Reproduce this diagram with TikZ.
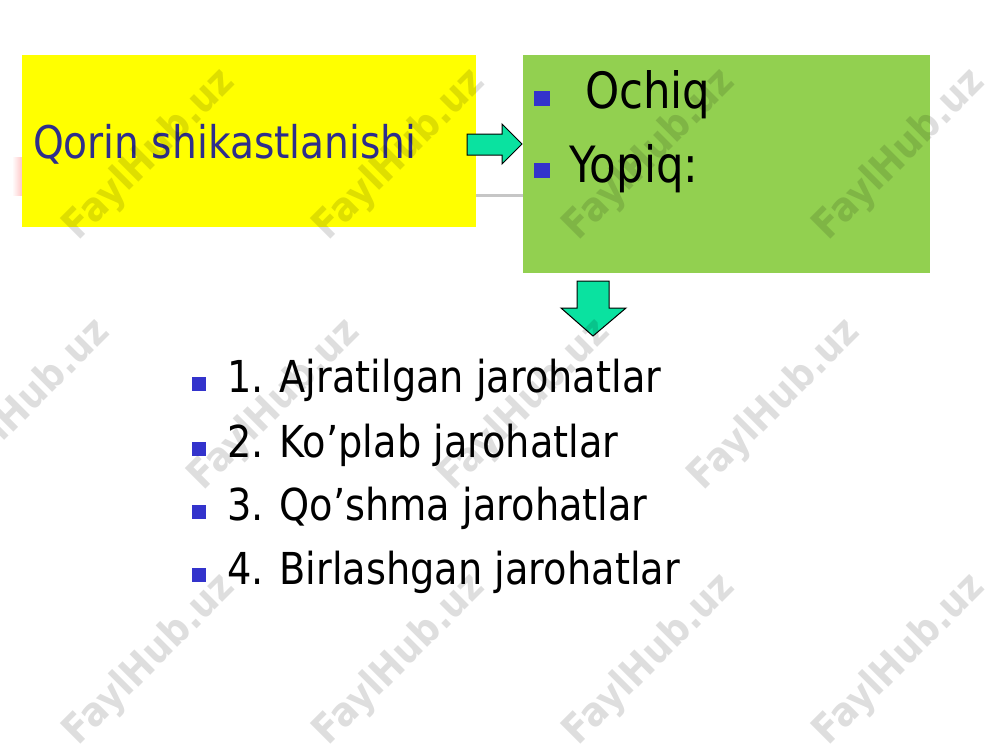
\documentclass[tikz,border=0pt]{standalone}
\usepackage{fontspec}
\setmainfont{DejaVu Sans}[FakeStretch=0.87]
\newfontfamily\wmfont{DejaVu Sans}[FakeStretch=0.9]
\definecolor{yel}{RGB}{255,255,0}
\definecolor{grn}{RGB}{146,208,80}
\definecolor{mint}{RGB}{10,226,160}
\definecolor{navy}{RGB}{46,46,140}
\definecolor{bul}{RGB}{51,51,204}
\tikzset{
  txt/.style={anchor=base west, inner sep=0pt, outer sep=0pt},
  blockarrow/.style={fill=mint, draw=black, line width=0.5pt, line join=miter},
  bulsq/.style={fill=bul},
  wm/.style={rotate=45, inner sep=0pt, font=\wmfont\bfseries\fontsize{20}{20}\selectfont, text=black, text opacity=0.13},
}
\begin{document}
\begin{tikzpicture}[x=0.5pt, y=-0.5pt]
\useasboundingbox (0,0) rectangle (1000,750);
\fill[white] (0,0) rectangle (1000,750);
% faint slide remnants
\shade[left color=white, right color=red!22] (12,157) rectangle (22,195);
\draw[gray!45, line width=1.5pt] (476,195) -- (523,195);
% boxes
\node[fill=yel, inner sep=0pt, minimum width=227pt, minimum height=86pt, anchor=north west] (qbox) at (22,55) {};
\node[fill=grn, inner sep=0pt, minimum width=203.5pt, minimum height=109pt, anchor=north west] (gbox) at (523,55) {};
% title
\node[txt, text=navy, font=\fontsize{22.5}{27}\selectfont] (title) at (33,158) {Qorin shikastlanishi};
% block arrows
\draw[blockarrow] (467,134) -- (502,134) -- (502,124) -- (522,144) -- (502,164) -- (502,155) -- (467,155) -- cycle;
\draw[blockarrow] (577,281) -- (609,281) -- (609,308) -- (626,308) -- (593,336) -- (561,308) -- (577,308) -- cycle;
% green box items
\fill[bulsq] (534,91) rectangle (550,106);
\fill[bulsq] (534,163) rectangle (550,178);
\node[txt, font=\fontsize{25}{30}\selectfont] (och) at (585,108) {Ochiq};
\node[txt, font=\fontsize{25}{30}\selectfont] (yop) at (569,182) {Yopiq:};
% list
\fill[bulsq] (192,377) rectangle (206,391);
\fill[bulsq] (192,442) rectangle (206,456);
\fill[bulsq] (192,505) rectangle (206,519);
\fill[bulsq] (192,568) rectangle (206,582);
\node[txt, font=\fontsize{22}{26}\selectfont] (l1) at (227,392) {1. Ajratilgan jarohatlar};
\node[txt, font=\fontsize{22}{26}\selectfont] (l2) at (227,457) {2. Ko’plab jarohatlar};
\node[txt, font=\fontsize{22}{26}\selectfont] (l3) at (227,520) {3. Qo’shma jarohatlar};
\node[txt, font=\fontsize{22}{26}\selectfont] (l4) at (227,584) {4. Birlashgan jarohatlar};
% watermarks
\foreach \i/\xx/\yy in {1/150/155, 2/400/155, 3/650/155, 4/900/155,
                        5/25/405, 6/275/405, 7/525/405, 8/775/405,
                        9/150/660, 10/400/660, 11/650/660, 12/900/660}
  \node[wm] (wm\i) at (\xx,\yy) {FaylHub.uz};
\end{tikzpicture}
\end{document}
